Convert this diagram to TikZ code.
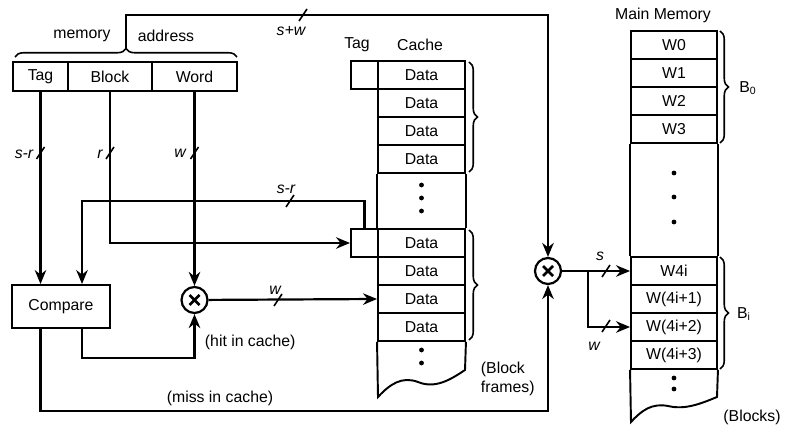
\documentclass[tikz,border=0pt]{standalone}
\usepackage{fontspec}
\setmainfont{Liberation Sans}
\usetikzlibrary{arrows.meta,decorations.pathreplacing}

\newcommand{\busmark}[1]{\draw[line width=0.9pt] #1 ++(-4,6) -- ++(8,-12);}

\begin{document}
\begin{tikzpicture}[x=0.02cm,y=-0.02cm,line width=1.25pt,>={Stealth[length=2.8mm,width=2.3mm]},
  font=\fontsize{9}{10.5}\selectfont,
  cell/.style={draw,line width=1.1pt,minimum height=0.56cm,inner sep=0pt},
  datacell/.style={cell,minimum width=1.74cm},
  memcell/.style={cell,minimum width=1.72cm},
  brace/.style={decorate,decoration={brace,amplitude=0.17cm},line width=0.9pt},
  lbl/.style={font=\fontsize{9}{10.5}\selectfont\itshape},
  mult/.style={draw,circle,minimum size=0.52cm,inner sep=0pt,
    path picture={\draw[line width=1.6pt]
      ([shift={(-5,-5)}]path picture bounding box.center) -- ([shift={(5,5)}]path picture bounding box.center)
      ([shift={(-5,5)}]path picture bounding box.center) -- ([shift={(5,-5)}]path picture bounding box.center);}}]
\useasboundingbox (0,0) rectangle (785,432);

% memory address
\node[cell,minimum width=1.1cm,minimum height=0.58cm] (tagf) at (40.5,76.5) {Tag};
\node[cell,minimum width=1.68cm,minimum height=0.58cm] (blk) at (110,76.5) {Block};
\node[cell,minimum width=1.7cm,minimum height=0.58cm] (wrd) at (194.5,76.5) {Word};
\draw[brace] (15,57) -- (237,57);
\coordinate (adr) at (126,48);
\coordinate (topk) at (548,15);
\node (memlbl) at (82,36) {memory};
\node (adrlbl) at (166,36) {address};

\node[cell,minimum width=1.96cm,minimum height=0.86cm] (cmp) at (61,306.5) {Compare};
\node[mult] (hit) at (194.5,300) {};
\node[mult] (mux) at (548,271) {};

% cache
\node (ctag) at (357,45) {Tag};
\node (chead) at (420,45) {Cache};
\foreach \i/\y in {1/75,2/103,3/131,4/159,5/243,6/271,7/299,8/327}
  \node[datacell] (d\i) at (421.5,\y) {Data};
\node[cell,minimum width=0.54cm] (ct1) at (364.5,75) {};
\node[cell,minimum width=0.54cm] (ct2) at (364.5,243) {};
\draw[line width=1.1pt] (d4.south west) -- (d5.north west) (d4.south east) -- (d5.north east);
\draw[line width=1.1pt] (d8.south west) -- (378,397)
  .. controls (390,384) and (402,376) .. (418,382)
  .. controls (435,389) and (450,380) .. (465,370) -- (d8.south east);
\foreach \y in {185,198,211,350,363} \fill (421.5,\y) circle (2.4);
\draw[brace] (469,62) -- (469,172);
\draw[brace] (469,230) -- (469,340);
\node[align=left,anchor=west] (bfr) at (474,379) {(Block\\ frames)};

% main memory
\node (mmhead) at (663,15) {Main Memory};
\foreach \i/\y/\t in {1/45/W0,2/73/W1,3/101/W2,4/129/W3,5/271/W4i,6/299/{W(4i+1)},7/327/{W(4i+2)},8/355/{W(4i+3)}}
  \node[memcell] (m\i) at (674,\y) {\t};
\draw[line width=1.1pt] (m4.south west) -- (m5.north west) (m4.south east) -- (m5.north east);
\draw[line width=1.1pt] (m8.south west) -- (631,422)
  .. controls (642,410) and (652,403) .. (668,406)
  .. controls (685,410) and (700,404) .. (717,397) -- (m8.south east);
\foreach \y in {173,197,222,378,389} \fill (674,\y) circle (2.4);
\draw[brace] (720,31) -- (720,143);
\draw[brace] (720,257) -- (720,369);
\node (b0) at (748,88) {B\textsubscript{0}};
\node (bi) at (744,314) {B\textsubscript{i}};
\node (blks) at (752,417) {(Blocks)};

% connections
\draw[->] (tagf.south) -- (tagf.south |- cmp.north);
\draw[->] (blk.south) |- (ct2.west);
\draw[->] (wrd.south) -- (hit.north);
\coordinate (srk) at (82,201);
\draw[->] (ct2.north) |- (srk) -- (srk |- cmp.north);
\draw[->] (hit) -- (d7.west);
\draw[->] (cmp.south -| srk) -- ++(0,29) -| (hit.south);
\draw[->] (cmp.south -| tagf.south) -- ++(0,82) -| (mux.south);
\draw[->] (adr) |- (topk) -- (mux.north);
\draw[->] (mux) -- (m5.west);
\coordinate (brk) at (588,271);
\draw[->] (brk) |- (m7.west);

% bus widths
\busmark{(40.5,153)} \node[lbl] (l1) at (24,154) {s-r};
\busmark{(110,153)}  \node[lbl] (l2) at (100,154) {r};
\busmark{(194.5,153)} \node[lbl] (l3) at (180,153) {w};
\busmark{(303,15)}   \node[lbl] (l4) at (291,31) {s+w};
\busmark{(290,201)}  \node[lbl] (l5) at (286,189) {s-r};
\busmark{(278,300)}  \node[lbl] (l6) at (275,290) {w};
\busmark{(606,271)}  \node[lbl] (l7) at (600,256) {s};
\busmark{(606,326)}  \node[lbl] (l8) at (594,346) {w};
\node[anchor=west] (hitl) at (198,342) {(hit in cache)};
\node (missl) at (220,398) {(miss in cache)};
\end{tikzpicture}
\end{document}
